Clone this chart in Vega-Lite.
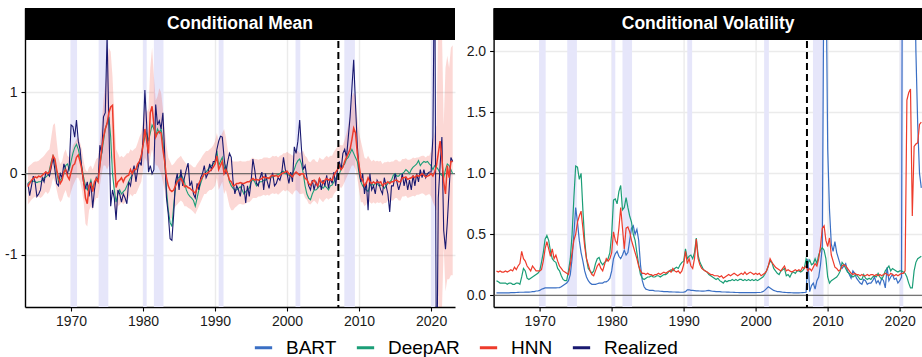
{
  "$schema": "https://vega.github.io/schema/vega-lite/v6.json",
  "padding": {"left": 4, "top": 7, "right": 0, "bottom": 0},
  "bounds": "flush",
  "spacing": 38.6,
  "config": {
    "font": "Liberation Sans",
    "view": {"stroke": null},
    "axis": {"grid": true, "gridColor": "#ebebeb", "gridWidth": 1.4, "domainColor": "#000000", "domainWidth": 1.4, "tickColor": "#000000", "tickSize": 4, "tickWidth": 1.1, "labelFontSize": 14, "labelColor": "#1a1a1a", "labelPadding": 3}
  },
  "datasets": {
    "rec": [{"s": 1969.92, "e": 1970.83}, {"s": 1973.83, "e": 1975.17}, {"s": 1980.0, "e": 1980.5}, {"s": 1981.5, "e": 1982.83}, {"s": 1990.5, "e": 1991.17}, {"s": 2001.17, "e": 2001.83}, {"s": 2007.95, "e": 2009.42}, {"s": 2020.0, "e": 2020.5}],
    "cut": [{"t": 2007.12}],
    "zero": [{"y": 0}],
    "mean": [
{"t":1964.0,"Realized":-0.12,"DeepAR":-0.12,"HNN":-0.16,"lo":-0.38,"hi":0.08},
{"t":1964.25,"Realized":-0.27,"DeepAR":-0.1,"HNN":-0.12,"lo":-0.35,"hi":0.1},
{"t":1964.5,"Realized":-0.15,"DeepAR":-0.1,"HNN":-0.08,"lo":-0.32,"hi":0.12},
{"t":1964.75,"Realized":-0.03,"DeepAR":-0.09,"HNN":-0.06,"lo":-0.3,"hi":0.14},
{"t":1965.0,"Realized":-0.1,"DeepAR":-0.1,"HNN":-0.04,"lo":-0.28,"hi":0.15},
{"t":1965.25,"Realized":-0.28,"DeepAR":-0.11,"HNN":-0.05,"lo":-0.3,"hi":0.15},
{"t":1965.5,"Realized":-0.25,"DeepAR":-0.1,"HNN":-0.03,"lo":-0.28,"hi":0.16},
{"t":1965.75,"Realized":-0.2,"DeepAR":-0.1,"HNN":-0.04,"lo":-0.3,"hi":0.18},
{"t":1966.0,"Realized":-0.05,"DeepAR":-0.08,"HNN":-0.02,"lo":-0.28,"hi":0.2},
{"t":1966.25,"Realized":-0.1,"DeepAR":-0.05,"HNN":0,"lo":-0.25,"hi":0.22},
{"t":1966.5,"Realized":0.02,"DeepAR":-0.04,"HNN":0.02,"lo":-0.22,"hi":0.25},
{"t":1966.75,"Realized":0,"DeepAR":-0.02,"HNN":0,"lo":-0.25,"hi":0.28},
{"t":1967.0,"Realized":-0.03,"DeepAR":0.05,"HNN":0.02,"lo":-0.22,"hi":0.3},
{"t":1967.25,"Realized":0.08,"DeepAR":0.15,"HNN":0.12,"lo":-0.15,"hi":0.45},
{"t":1967.5,"Realized":0.2,"DeepAR":0.22,"HNN":0.22,"lo":-0.05,"hi":0.6},
{"t":1967.75,"Realized":0.05,"DeepAR":0.15,"HNN":0.18,"lo":-0.1,"hi":0.62},
{"t":1968.0,"Realized":-0.12,"DeepAR":0.02,"HNN":0.05,"lo":-0.2,"hi":0.4},
{"t":1968.25,"Realized":-0.15,"DeepAR":-0.1,"HNN":-0.05,"lo":-0.3,"hi":0.2},
{"t":1968.5,"Realized":0,"DeepAR":-0.08,"HNN":-0.12,"lo":-0.35,"hi":0.12},
{"t":1968.75,"Realized":-0.05,"DeepAR":-0.05,"HNN":-0.08,"lo":-0.32,"hi":0.15},
{"t":1969.0,"Realized":0.12,"DeepAR":0,"HNN":0.02,"lo":-0.25,"hi":0.25},
{"t":1969.25,"Realized":0.05,"DeepAR":0.1,"HNN":0.05,"lo":-0.2,"hi":0.3},
{"t":1969.5,"Realized":0,"DeepAR":0.12,"HNN":-0.03,"lo":-0.28,"hi":0.22},
{"t":1969.75,"Realized":0.1,"DeepAR":0.05,"HNN":-0.07,"lo":-0.3,"hi":0.2},
{"t":1970.0,"Realized":0.6,"DeepAR":0.15,"HNN":0.02,"lo":-0.22,"hi":0.25},
{"t":1970.25,"Realized":0.58,"DeepAR":0.25,"HNN":0.1,"lo":-0.15,"hi":0.35},
{"t":1970.5,"Realized":0.45,"DeepAR":0.32,"HNN":0.12,"lo":-0.1,"hi":0.38},
{"t":1970.75,"Realized":0.66,"DeepAR":0.36,"HNN":0.2,"lo":-0.05,"hi":0.42},
{"t":1971.0,"Realized":0.4,"DeepAR":0.3,"HNN":0.23,"lo":-0.05,"hi":0.45},
{"t":1971.25,"Realized":0.3,"DeepAR":0.2,"HNN":0.15,"lo":-0.1,"hi":0.38},
{"t":1971.5,"Realized":0.05,"DeepAR":0.08,"HNN":0.05,"lo":-0.2,"hi":0.3},
{"t":1971.75,"Realized":-0.12,"DeepAR":-0.05,"HNN":-0.1,"lo":-0.35,"hi":0.15},
{"t":1972.0,"Realized":-0.18,"DeepAR":-0.15,"HNN":-0.3,"lo":-0.62,"hi":0.05},
{"t":1972.25,"Realized":-0.1,"DeepAR":-0.2,"HNN":-0.37,"lo":-0.65,"hi":0.02},
{"t":1972.5,"Realized":-0.28,"DeepAR":-0.15,"HNN":-0.15,"lo":-0.45,"hi":0.08},
{"t":1972.75,"Realized":-0.1,"DeepAR":-0.08,"HNN":-0.12,"lo":-0.4,"hi":0.1},
{"t":1973.0,"Realized":-0.42,"DeepAR":-0.18,"HNN":-0.22,"lo":-0.45,"hi":0.05},
{"t":1973.25,"Realized":-0.2,"DeepAR":-0.12,"HNN":-0.1,"lo":-0.35,"hi":0.12},
{"t":1973.5,"Realized":-0.05,"DeepAR":-0.08,"HNN":-0.06,"lo":-0.3,"hi":0.18},
{"t":1973.75,"Realized":-0.1,"DeepAR":-0.05,"HNN":-0.1,"lo":-0.3,"hi":0.2},
{"t":1974.0,"Realized":0.35,"DeepAR":0.1,"HNN":0.1,"lo":-0.15,"hi":0.4},
{"t":1974.25,"Realized":0.25,"DeepAR":0.25,"HNN":0.3,"lo":0,"hi":0.6},
{"t":1974.5,"Realized":0.7,"DeepAR":0.4,"HNN":0.45,"lo":0.1,"hi":0.9},
{"t":1974.75,"Realized":0.75,"DeepAR":0.55,"HNN":0.55,"lo":0.1,"hi":1.1},
{"t":1975.0,"Realized":1.7,"DeepAR":0.62,"HNN":0.62,"lo":0.05,"hi":1.3},
{"t":1975.25,"Realized":0.6,"DeepAR":0.7,"HNN":0.75,"lo":0.1,"hi":1.55},
{"t":1975.5,"Realized":-0.4,"DeepAR":0.45,"HNN":0.82,"lo":0.2,"hi":1.5},
{"t":1975.75,"Realized":-0.2,"DeepAR":0,"HNN":0.84,"lo":0.1,"hi":1.2},
{"t":1976.0,"Realized":-0.3,"DeepAR":-0.2,"HNN":0.2,"lo":-0.4,"hi":0.7},
{"t":1976.25,"Realized":-0.57,"DeepAR":-0.35,"HNN":-0.17,"lo":-0.5,"hi":0.3},
{"t":1976.5,"Realized":-0.2,"DeepAR":-0.25,"HNN":-0.1,"lo":-0.4,"hi":0.25},
{"t":1976.75,"Realized":-0.25,"DeepAR":-0.2,"HNN":-0.08,"lo":-0.38,"hi":0.2},
{"t":1977.0,"Realized":-0.35,"DeepAR":-0.25,"HNN":-0.05,"lo":-0.35,"hi":0.22},
{"t":1977.25,"Realized":-0.25,"DeepAR":-0.22,"HNN":-0.1,"lo":-0.38,"hi":0.2},
{"t":1977.5,"Realized":-0.3,"DeepAR":-0.2,"HNN":-0.05,"lo":-0.35,"hi":0.22},
{"t":1977.75,"Realized":-0.37,"DeepAR":-0.15,"HNN":-0.03,"lo":-0.33,"hi":0.25},
{"t":1978.0,"Realized":-0.1,"DeepAR":-0.1,"HNN":-0.02,"lo":-0.3,"hi":0.25},
{"t":1978.25,"Realized":-0.15,"DeepAR":-0.05,"HNN":0.05,"lo":-0.25,"hi":0.3},
{"t":1978.5,"Realized":0,"DeepAR":-0.02,"HNN":0,"lo":-0.28,"hi":0.28},
{"t":1978.75,"Realized":0.1,"DeepAR":0.05,"HNN":0.05,"lo":-0.25,"hi":0.3},
{"t":1979.0,"Realized":-0.1,"DeepAR":0.05,"HNN":0.05,"lo":-0.25,"hi":0.32},
{"t":1979.25,"Realized":0.05,"DeepAR":0.1,"HNN":0.12,"lo":-0.2,"hi":0.38},
{"t":1979.5,"Realized":0.15,"DeepAR":0.15,"HNN":0.15,"lo":-0.15,"hi":0.45},
{"t":1979.75,"Realized":0.1,"DeepAR":0.22,"HNN":0.22,"lo":-0.1,"hi":0.5},
{"t":1980.0,"Realized":0.45,"DeepAR":0.35,"HNN":0.35,"lo":0.05,"hi":0.65},
{"t":1980.25,"Realized":1.03,"DeepAR":0.45,"HNN":0.55,"lo":0.2,"hi":0.85},
{"t":1980.5,"Realized":0.6,"DeepAR":0.5,"HNN":0.4,"lo":0.15,"hi":0.75},
{"t":1980.75,"Realized":0.02,"DeepAR":0.4,"HNN":0.25,"lo":0,"hi":0.8},
{"t":1981.0,"Realized":0.1,"DeepAR":0.5,"HNN":0.75,"lo":0.2,"hi":1.3},
{"t":1981.25,"Realized":0,"DeepAR":0.6,"HNN":0.83,"lo":0.3,"hi":1.55},
{"t":1981.5,"Realized":0.05,"DeepAR":0.55,"HNN":0.6,"lo":0.2,"hi":1.2},
{"t":1981.75,"Realized":0.85,"DeepAR":0.45,"HNN":0.45,"lo":0.1,"hi":0.9},
{"t":1982.0,"Realized":0.6,"DeepAR":0.55,"HNN":0.5,"lo":0.1,"hi":0.95},
{"t":1982.25,"Realized":0.65,"DeepAR":0.5,"HNN":0.52,"lo":0.05,"hi":1.05},
{"t":1982.5,"Realized":0.55,"DeepAR":0.55,"HNN":0.5,"lo":0,"hi":1.0},
{"t":1982.75,"Realized":0.75,"DeepAR":0.4,"HNN":0.3,"lo":-0.1,"hi":0.8},
{"t":1983.0,"Realized":0.25,"DeepAR":0.15,"HNN":0.15,"lo":-0.2,"hi":0.55},
{"t":1983.25,"Realized":-0.3,"DeepAR":-0.2,"HNN":-0.05,"lo":-0.35,"hi":0.35},
{"t":1983.5,"Realized":-0.5,"DeepAR":-0.45,"HNN":-0.15,"lo":-0.45,"hi":0.2},
{"t":1983.75,"Realized":-0.8,"DeepAR":-0.6,"HNN":-0.2,"lo":-0.55,"hi":0.15},
{"t":1984.0,"Realized":-0.82,"DeepAR":-0.65,"HNN":-0.22,"lo":-0.55,"hi":0.1},
{"t":1984.25,"Realized":-0.5,"DeepAR":-0.4,"HNN":-0.2,"lo":-0.45,"hi":0.12},
{"t":1984.5,"Realized":-0.1,"DeepAR":-0.15,"HNN":-0.15,"lo":-0.4,"hi":0.15},
{"t":1984.75,"Realized":0,"DeepAR":-0.05,"HNN":-0.1,"lo":-0.38,"hi":0.18},
{"t":1985.0,"Realized":-0.2,"DeepAR":-0.05,"HNN":-0.08,"lo":-0.35,"hi":0.2},
{"t":1985.25,"Realized":0.05,"DeepAR":0,"HNN":-0.06,"lo":-0.33,"hi":0.22},
{"t":1985.5,"Realized":-0.15,"DeepAR":-0.05,"HNN":-0.1,"lo":-0.35,"hi":0.18},
{"t":1985.75,"Realized":-0.05,"DeepAR":-0.1,"HNN":-0.16,"lo":-0.4,"hi":0.15},
{"t":1986.0,"Realized":0.05,"DeepAR":-0.2,"HNN":-0.15,"lo":-0.4,"hi":0.12},
{"t":1986.25,"Realized":0.13,"DeepAR":-0.25,"HNN":-0.17,"lo":-0.42,"hi":0.1},
{"t":1986.5,"Realized":-0.15,"DeepAR":-0.28,"HNN":-0.18,"lo":-0.43,"hi":0.12},
{"t":1986.75,"Realized":-0.1,"DeepAR":-0.3,"HNN":-0.2,"lo":-0.45,"hi":0.1},
{"t":1987.0,"Realized":-0.25,"DeepAR":-0.33,"HNN":-0.22,"lo":-0.47,"hi":0.08},
{"t":1987.25,"Realized":-0.3,"DeepAR":-0.4,"HNN":-0.24,"lo":-0.5,"hi":0.08},
{"t":1987.5,"Realized":-0.12,"DeepAR":-0.3,"HNN":-0.18,"lo":-0.45,"hi":0.12},
{"t":1987.75,"Realized":-0.2,"DeepAR":-0.2,"HNN":-0.12,"lo":-0.4,"hi":0.15},
{"t":1988.0,"Realized":-0.05,"DeepAR":-0.12,"HNN":-0.08,"lo":-0.35,"hi":0.18},
{"t":1988.25,"Realized":0,"DeepAR":-0.05,"HNN":-0.04,"lo":-0.3,"hi":0.22},
{"t":1988.5,"Realized":0.1,"DeepAR":0,"HNN":0,"lo":-0.25,"hi":0.25},
{"t":1988.75,"Realized":-0.05,"DeepAR":0.02,"HNN":0,"lo":-0.25,"hi":0.28},
{"t":1989.0,"Realized":0,"DeepAR":0.05,"HNN":0.01,"lo":-0.22,"hi":0.28},
{"t":1989.25,"Realized":0.12,"DeepAR":0.08,"HNN":0.03,"lo":-0.2,"hi":0.3},
{"t":1989.5,"Realized":0.05,"DeepAR":0.1,"HNN":0.05,"lo":-0.2,"hi":0.32},
{"t":1989.75,"Realized":0.15,"DeepAR":0.12,"HNN":0.08,"lo":-0.18,"hi":0.35},
{"t":1990.0,"Realized":0.15,"DeepAR":0.15,"HNN":0.12,"lo":-0.15,"hi":0.4},
{"t":1990.25,"Realized":0.3,"DeepAR":0.28,"HNN":0.22,"lo":-0.05,"hi":0.5},
{"t":1990.5,"Realized":0.4,"DeepAR":0.1,"HNN":0.05,"lo":-0.2,"hi":0.4},
{"t":1990.75,"Realized":0.46,"DeepAR":0.15,"HNN":0.1,"lo":-0.15,"hi":0.45},
{"t":1991.0,"Realized":0.45,"DeepAR":0.2,"HNN":0.15,"lo":-0.1,"hi":0.5},
{"t":1991.25,"Realized":0.2,"DeepAR":0.05,"HNN":0,"lo":-0.25,"hi":0.55},
{"t":1991.5,"Realized":0,"DeepAR":0.1,"HNN":0.05,"lo":-0.2,"hi":0.45},
{"t":1991.75,"Realized":0.15,"DeepAR":0,"HNN":0,"lo":-0.3,"hi":0.3},
{"t":1992.0,"Realized":0.25,"DeepAR":-0.1,"HNN":-0.08,"lo":-0.4,"hi":0.2},
{"t":1992.25,"Realized":0.2,"DeepAR":-0.15,"HNN":-0.1,"lo":-0.45,"hi":0.18},
{"t":1992.5,"Realized":-0.1,"DeepAR":-0.18,"HNN":-0.15,"lo":-0.45,"hi":0.15},
{"t":1992.75,"Realized":-0.25,"DeepAR":-0.2,"HNN":-0.14,"lo":-0.42,"hi":0.15},
{"t":1993.0,"Realized":-0.15,"DeepAR":-0.2,"HNN":-0.12,"lo":-0.4,"hi":0.15},
{"t":1993.25,"Realized":-0.2,"DeepAR":-0.18,"HNN":-0.12,"lo":-0.38,"hi":0.15},
{"t":1993.5,"Realized":-0.28,"DeepAR":-0.16,"HNN":-0.11,"lo":-0.37,"hi":0.16},
{"t":1993.75,"Realized":-0.12,"DeepAR":-0.2,"HNN":-0.12,"lo":-0.38,"hi":0.15},
{"t":1994.0,"Realized":-0.15,"DeepAR":-0.25,"HNN":-0.12,"lo":-0.38,"hi":0.15},
{"t":1994.25,"Realized":-0.36,"DeepAR":-0.22,"HNN":-0.11,"lo":-0.37,"hi":0.15},
{"t":1994.5,"Realized":-0.15,"DeepAR":-0.2,"HNN":-0.1,"lo":-0.35,"hi":0.16},
{"t":1994.75,"Realized":-0.28,"DeepAR":-0.18,"HNN":-0.1,"lo":-0.35,"hi":0.16},
{"t":1995.0,"Realized":-0.1,"DeepAR":-0.1,"HNN":-0.08,"lo":-0.33,"hi":0.18},
{"t":1995.25,"Realized":0.18,"DeepAR":-0.07,"HNN":-0.06,"lo":-0.3,"hi":0.2},
{"t":1995.5,"Realized":0.05,"DeepAR":-0.1,"HNN":-0.08,"lo":-0.3,"hi":0.18},
{"t":1995.75,"Realized":-0.12,"DeepAR":-0.15,"HNN":-0.07,"lo":-0.3,"hi":0.18},
{"t":1996.0,"Realized":-0.15,"DeepAR":-0.12,"HNN":-0.08,"lo":-0.28,"hi":0.17},
{"t":1996.25,"Realized":-0.05,"DeepAR":-0.1,"HNN":-0.07,"lo":-0.28,"hi":0.18},
{"t":1996.5,"Realized":0.02,"DeepAR":-0.1,"HNN":-0.06,"lo":-0.27,"hi":0.18},
{"t":1996.75,"Realized":-0.2,"DeepAR":-0.08,"HNN":-0.04,"lo":-0.26,"hi":0.2},
{"t":1997.0,"Realized":0,"DeepAR":-0.08,"HNN":-0.05,"lo":-0.27,"hi":0.2},
{"t":1997.25,"Realized":-0.1,"DeepAR":-0.06,"HNN":-0.05,"lo":-0.26,"hi":0.2},
{"t":1997.5,"Realized":-0.18,"DeepAR":-0.05,"HNN":-0.06,"lo":-0.27,"hi":0.19},
{"t":1997.75,"Realized":-0.04,"DeepAR":-0.04,"HNN":-0.03,"lo":-0.25,"hi":0.2},
{"t":1998.0,"Realized":0,"DeepAR":-0.04,"HNN":-0.02,"lo":-0.24,"hi":0.22},
{"t":1998.25,"Realized":-0.15,"DeepAR":-0.03,"HNN":-0.03,"lo":-0.25,"hi":0.21},
{"t":1998.5,"Realized":-0.12,"DeepAR":-0.02,"HNN":-0.02,"lo":-0.24,"hi":0.22},
{"t":1998.75,"Realized":-0.05,"DeepAR":-0.01,"HNN":-0.04,"lo":-0.26,"hi":0.2},
{"t":1999.0,"Realized":-0.08,"DeepAR":0,"HNN":-0.02,"lo":-0.24,"hi":0.22},
{"t":1999.25,"Realized":0,"DeepAR":0.02,"HNN":0,"lo":-0.22,"hi":0.23},
{"t":1999.5,"Realized":0.2,"DeepAR":0.03,"HNN":0.01,"lo":-0.2,"hi":0.25},
{"t":1999.75,"Realized":0.05,"DeepAR":0,"HNN":0.02,"lo":-0.22,"hi":0.25},
{"t":2000.0,"Realized":0,"DeepAR":0,"HNN":0.03,"lo":-0.2,"hi":0.27},
{"t":2000.25,"Realized":-0.12,"DeepAR":-0.02,"HNN":0,"lo":-0.22,"hi":0.25},
{"t":2000.5,"Realized":0.02,"DeepAR":-0.03,"HNN":-0.02,"lo":-0.24,"hi":0.24},
{"t":2000.75,"Realized":-0.1,"DeepAR":0,"HNN":-0.04,"lo":-0.26,"hi":0.22},
{"t":2001.0,"Realized":0.33,"DeepAR":0.05,"HNN":0,"lo":-0.22,"hi":0.25},
{"t":2001.25,"Realized":0.25,"DeepAR":0.12,"HNN":0.02,"lo":-0.2,"hi":0.28},
{"t":2001.5,"Realized":0.4,"DeepAR":0.16,"HNN":0,"lo":-0.22,"hi":0.28},
{"t":2001.75,"Realized":0.66,"DeepAR":0.18,"HNN":-0.02,"lo":-0.25,"hi":0.25},
{"t":2002.0,"Realized":0.3,"DeepAR":0.12,"HNN":0,"lo":-0.25,"hi":0.27},
{"t":2002.25,"Realized":0.05,"DeepAR":0,"HNN":0,"lo":-0.24,"hi":0.28},
{"t":2002.5,"Realized":0.1,"DeepAR":-0.15,"HNN":-0.06,"lo":-0.3,"hi":0.22},
{"t":2002.75,"Realized":-0.05,"DeepAR":-0.25,"HNN":-0.07,"lo":-0.32,"hi":0.2},
{"t":2003.0,"Realized":-0.15,"DeepAR":-0.3,"HNN":-0.12,"lo":-0.37,"hi":0.15},
{"t":2003.25,"Realized":-0.2,"DeepAR":-0.32,"HNN":-0.14,"lo":-0.38,"hi":0.14},
{"t":2003.5,"Realized":-0.08,"DeepAR":-0.25,"HNN":-0.1,"lo":-0.35,"hi":0.17},
{"t":2003.75,"Realized":-0.2,"DeepAR":-0.2,"HNN":-0.08,"lo":-0.33,"hi":0.18},
{"t":2004.0,"Realized":-0.1,"DeepAR":-0.2,"HNN":-0.12,"lo":-0.35,"hi":0.15},
{"t":2004.25,"Realized":-0.16,"DeepAR":-0.18,"HNN":-0.15,"lo":-0.38,"hi":0.14},
{"t":2004.5,"Realized":-0.05,"DeepAR":-0.15,"HNN":-0.06,"lo":-0.3,"hi":0.2},
{"t":2004.75,"Realized":-0.2,"DeepAR":-0.16,"HNN":-0.1,"lo":-0.33,"hi":0.18},
{"t":2005.0,"Realized":-0.08,"DeepAR":-0.18,"HNN":-0.12,"lo":-0.35,"hi":0.17},
{"t":2005.25,"Realized":-0.15,"DeepAR":-0.15,"HNN":-0.08,"lo":-0.32,"hi":0.2},
{"t":2005.5,"Realized":-0.02,"DeepAR":-0.17,"HNN":-0.06,"lo":-0.3,"hi":0.22},
{"t":2005.75,"Realized":-0.18,"DeepAR":-0.2,"HNN":-0.08,"lo":-0.32,"hi":0.2},
{"t":2006.0,"Realized":-0.05,"DeepAR":-0.15,"HNN":-0.07,"lo":-0.3,"hi":0.22},
{"t":2006.25,"Realized":-0.12,"DeepAR":-0.14,"HNN":-0.08,"lo":-0.3,"hi":0.22},
{"t":2006.5,"Realized":0.02,"DeepAR":-0.1,"HNN":-0.02,"lo":-0.25,"hi":0.27},
{"t":2006.75,"Realized":-0.15,"DeepAR":-0.06,"HNN":0.02,"lo":-0.22,"hi":0.3},
{"t":2007.0,"Realized":0.05,"DeepAR":-0.02,"HNN":0.05,"lo":-0.2,"hi":0.33},
{"t":2007.25,"Realized":0.15,"DeepAR":0,"HNN":0.1,"lo":-0.15,"hi":0.36},
{"t":2007.5,"Realized":0.05,"DeepAR":0.05,"HNN":0.05,"lo":-0.18,"hi":0.35},
{"t":2007.75,"Realized":0.25,"DeepAR":0.1,"HNN":0.08,"lo":-0.15,"hi":0.35},
{"t":2008.0,"Realized":0.3,"DeepAR":0.12,"HNN":0.15,"lo":-0.1,"hi":0.42},
{"t":2008.25,"Realized":0.2,"DeepAR":0.18,"HNN":0.2,"lo":-0.05,"hi":0.5},
{"t":2008.5,"Realized":0.45,"DeepAR":0.2,"HNN":0.25,"lo":0,"hi":0.6},
{"t":2008.75,"Realized":0.7,"DeepAR":0.25,"HNN":0.3,"lo":0.05,"hi":0.75},
{"t":2009.0,"Realized":1.05,"DeepAR":0.3,"HNN":0.42,"lo":0.1,"hi":0.95},
{"t":2009.25,"Realized":1.4,"DeepAR":0.25,"HNN":0.56,"lo":0.1,"hi":1.0},
{"t":2009.5,"Realized":0.85,"DeepAR":0.2,"HNN":0.5,"lo":0.05,"hi":0.95},
{"t":2009.75,"Realized":0.35,"DeepAR":0.15,"HNN":0.25,"lo":-0.05,"hi":0.7},
{"t":2010.0,"Realized":0.05,"DeepAR":0,"HNN":0.1,"lo":-0.2,"hi":0.5},
{"t":2010.25,"Realized":-0.1,"DeepAR":-0.1,"HNN":-0.05,"lo":-0.35,"hi":0.4},
{"t":2010.5,"Realized":0,"DeepAR":-0.15,"HNN":-0.08,"lo":-0.35,"hi":0.3},
{"t":2010.75,"Realized":-0.25,"DeepAR":-0.18,"HNN":-0.15,"lo":-0.4,"hi":0.2},
{"t":2011.0,"Realized":-0.1,"DeepAR":-0.2,"HNN":-0.12,"lo":-0.38,"hi":0.18},
{"t":2011.25,"Realized":-0.45,"DeepAR":-0.22,"HNN":-0.05,"lo":-0.32,"hi":0.22},
{"t":2011.5,"Realized":0,"DeepAR":-0.15,"HNN":-0.1,"lo":-0.35,"hi":0.18},
{"t":2011.75,"Realized":-0.2,"DeepAR":-0.12,"HNN":-0.12,"lo":-0.37,"hi":0.15},
{"t":2012.0,"Realized":-0.15,"DeepAR":-0.15,"HNN":-0.1,"lo":-0.35,"hi":0.17},
{"t":2012.25,"Realized":-0.25,"DeepAR":-0.12,"HNN":-0.12,"lo":-0.37,"hi":0.15},
{"t":2012.5,"Realized":-0.08,"DeepAR":-0.12,"HNN":-0.1,"lo":-0.35,"hi":0.16},
{"t":2012.75,"Realized":-0.12,"DeepAR":-0.15,"HNN":-0.11,"lo":-0.36,"hi":0.15},
{"t":2013.0,"Realized":-0.2,"DeepAR":-0.14,"HNN":-0.1,"lo":-0.35,"hi":0.16},
{"t":2013.25,"Realized":-0.25,"DeepAR":-0.15,"HNN":-0.15,"lo":-0.38,"hi":0.12},
{"t":2013.5,"Realized":-0.05,"DeepAR":-0.18,"HNN":-0.12,"lo":-0.36,"hi":0.14},
{"t":2013.75,"Realized":-0.15,"DeepAR":-0.15,"HNN":-0.12,"lo":-0.36,"hi":0.14},
{"t":2014.0,"Realized":-0.25,"DeepAR":-0.12,"HNN":-0.1,"lo":-0.33,"hi":0.15},
{"t":2014.25,"Realized":-0.47,"DeepAR":-0.1,"HNN":-0.12,"lo":-0.35,"hi":0.14},
{"t":2014.5,"Realized":-0.15,"DeepAR":-0.08,"HNN":-0.1,"lo":-0.33,"hi":0.15},
{"t":2014.75,"Realized":-0.15,"DeepAR":-0.02,"HNN":-0.1,"lo":-0.33,"hi":0.15},
{"t":2015.0,"Realized":0,"DeepAR":0,"HNN":-0.08,"lo":-0.3,"hi":0.17},
{"t":2015.25,"Realized":-0.1,"DeepAR":-0.03,"HNN":-0.08,"lo":-0.3,"hi":0.17},
{"t":2015.5,"Realized":-0.2,"DeepAR":-0.03,"HNN":-0.1,"lo":-0.33,"hi":0.15},
{"t":2015.75,"Realized":-0.12,"DeepAR":0,"HNN":-0.1,"lo":-0.33,"hi":0.15},
{"t":2016.0,"Realized":0,"DeepAR":0,"HNN":-0.05,"lo":-0.28,"hi":0.18},
{"t":2016.25,"Realized":-0.15,"DeepAR":0.02,"HNN":-0.05,"lo":-0.28,"hi":0.18},
{"t":2016.5,"Realized":-0.05,"DeepAR":0.05,"HNN":-0.04,"lo":-0.27,"hi":0.19},
{"t":2016.75,"Realized":-0.2,"DeepAR":0.03,"HNN":-0.07,"lo":-0.3,"hi":0.17},
{"t":2017.0,"Realized":-0.08,"DeepAR":0,"HNN":-0.06,"lo":-0.29,"hi":0.17},
{"t":2017.25,"Realized":-0.2,"DeepAR":0.05,"HNN":-0.05,"lo":-0.28,"hi":0.18},
{"t":2017.5,"Realized":-0.02,"DeepAR":0.08,"HNN":-0.03,"lo":-0.27,"hi":0.2},
{"t":2017.75,"Realized":-0.15,"DeepAR":0.1,"HNN":-0.05,"lo":-0.28,"hi":0.19},
{"t":2018.0,"Realized":0,"DeepAR":0.12,"HNN":-0.02,"lo":-0.26,"hi":0.2},
{"t":2018.25,"Realized":-0.1,"DeepAR":0.16,"HNN":-0.03,"lo":-0.26,"hi":0.2},
{"t":2018.5,"Realized":0.05,"DeepAR":0.1,"HNN":-0.02,"lo":-0.25,"hi":0.21},
{"t":2018.75,"Realized":-0.05,"DeepAR":0.13,"HNN":0,"lo":-0.24,"hi":0.22},
{"t":2019.0,"Realized":0.05,"DeepAR":0.15,"HNN":-0.02,"lo":-0.25,"hi":0.22},
{"t":2019.25,"Realized":-0.05,"DeepAR":0.14,"HNN":-0.04,"lo":-0.27,"hi":0.2},
{"t":2019.5,"Realized":0,"DeepAR":0.15,"HNN":-0.03,"lo":-0.26,"hi":0.22},
{"t":2019.75,"Realized":0.02,"DeepAR":0.12,"HNN":-0.02,"lo":-0.25,"hi":0.22},
{"t":2020.0,"Realized":0.02,"DeepAR":0.1,"HNN":0,"lo":-0.28,"hi":0.28},
{"t":2020.25,"Realized":0.45,"DeepAR":0.05,"HNN":-0.03,"lo":-0.35,"hi":0.4},
{"t":2020.5,"Realized":3,"DeepAR":0.1,"HNN":0.02,"lo":-0.4,"hi":0.5},
{"t":2020.75,"Realized":-3,"DeepAR":0.08,"HNN":0.1,"lo":-0.45,"hi":0.6},
{"t":2021.0,"Realized":-0.3,"DeepAR":0.05,"HNN":0.25,"lo":-1.6,"hi":1.9},
{"t":2021.25,"Realized":0.1,"DeepAR":0,"HNN":0.4,"lo":-1.8,"hi":1.9},
{"t":2021.5,"Realized":0.45,"DeepAR":-0.02,"HNN":0.2,"lo":-1.7,"hi":1.8},
{"t":2021.75,"Realized":-0.7,"DeepAR":-0.05,"HNN":-0.1,"lo":-0.9,"hi":0.6},
{"t":2022.0,"Realized":-0.93,"DeepAR":0.05,"HNN":-0.25,"lo":-1.45,"hi":1.3},
{"t":2022.25,"Realized":-0.6,"DeepAR":0.12,"HNN":0.1,"lo":-1.3,"hi":1.45},
{"t":2022.5,"Realized":-0.2,"DeepAR":0.1,"HNN":-0.05,"lo":-1.3,"hi":1.3},
{"t":2022.75,"Realized":0.2,"DeepAR":0.05,"HNN":0.15,"lo":-1.25,"hi":1.55},
{"t":2023.0,"Realized":0.15,"DeepAR":0,"HNN":0.15,"lo":-1.25,"hi":1.58}
    ],
    "vol": [
{"t":1964.0,"BART":0.02,"DeepAR":0.12,"HNN":0.2},
{"t":1964.25,"BART":0.02,"DeepAR":0.11,"HNN":0.19},
{"t":1964.5,"BART":0.02,"DeepAR":0.1,"HNN":0.2},
{"t":1964.75,"BART":0.02,"DeepAR":0.1,"HNN":0.19},
{"t":1965.0,"BART":0.02,"DeepAR":0.1,"HNN":0.19},
{"t":1965.25,"BART":0.02,"DeepAR":0.1,"HNN":0.2},
{"t":1965.5,"BART":0.02,"DeepAR":0.09,"HNN":0.19},
{"t":1965.75,"BART":0.02,"DeepAR":0.1,"HNN":0.2},
{"t":1966.0,"BART":0.022,"DeepAR":0.1,"HNN":0.21},
{"t":1966.25,"BART":0.022,"DeepAR":0.09,"HNN":0.2},
{"t":1966.5,"BART":0.022,"DeepAR":0.09,"HNN":0.23},
{"t":1966.75,"BART":0.023,"DeepAR":0.1,"HNN":0.21},
{"t":1967.0,"BART":0.024,"DeepAR":0.1,"HNN":0.24},
{"t":1967.25,"BART":0.025,"DeepAR":0.09,"HNN":0.26},
{"t":1967.5,"BART":0.025,"DeepAR":0.15,"HNN":0.36},
{"t":1967.75,"BART":0.025,"DeepAR":0.22,"HNN":0.3},
{"t":1968.0,"BART":0.026,"DeepAR":0.2,"HNN":0.28},
{"t":1968.25,"BART":0.026,"DeepAR":0.14,"HNN":0.24},
{"t":1968.5,"BART":0.026,"DeepAR":0.13,"HNN":0.22},
{"t":1968.75,"BART":0.027,"DeepAR":0.14,"HNN":0.2},
{"t":1969.0,"BART":0.03,"DeepAR":0.15,"HNN":0.24},
{"t":1969.25,"BART":0.03,"DeepAR":0.16,"HNN":0.22},
{"t":1969.5,"BART":0.035,"DeepAR":0.17,"HNN":0.2},
{"t":1969.75,"BART":0.035,"DeepAR":0.18,"HNN":0.2},
{"t":1970.0,"BART":0.04,"DeepAR":0.2,"HNN":0.2},
{"t":1970.25,"BART":0.05,"DeepAR":0.27,"HNN":0.21},
{"t":1970.5,"BART":0.055,"DeepAR":0.35,"HNN":0.28},
{"t":1970.75,"BART":0.06,"DeepAR":0.46,"HNN":0.38},
{"t":1971.0,"BART":0.06,"DeepAR":0.49,"HNN":0.44},
{"t":1971.25,"BART":0.06,"DeepAR":0.45,"HNN":0.38},
{"t":1971.5,"BART":0.06,"DeepAR":0.36,"HNN":0.32},
{"t":1971.75,"BART":0.06,"DeepAR":0.3,"HNN":0.38},
{"t":1972.0,"BART":0.06,"DeepAR":0.28,"HNN":0.3},
{"t":1972.25,"BART":0.06,"DeepAR":0.27,"HNN":0.33},
{"t":1972.5,"BART":0.062,"DeepAR":0.22,"HNN":0.28},
{"t":1972.75,"BART":0.063,"DeepAR":0.2,"HNN":0.24},
{"t":1973.0,"BART":0.07,"DeepAR":0.16,"HNN":0.22},
{"t":1973.25,"BART":0.08,"DeepAR":0.13,"HNN":0.2},
{"t":1973.5,"BART":0.09,"DeepAR":0.12,"HNN":0.19},
{"t":1973.75,"BART":0.1,"DeepAR":0.12,"HNN":0.18},
{"t":1974.0,"BART":0.12,"DeepAR":0.2,"HNN":0.17},
{"t":1974.25,"BART":0.17,"DeepAR":0.3,"HNN":0.25},
{"t":1974.5,"BART":0.3,"DeepAR":0.5,"HNN":0.35},
{"t":1974.75,"BART":0.5,"DeepAR":0.8,"HNN":0.45},
{"t":1975.0,"BART":0.72,"DeepAR":1.06,"HNN":0.5},
{"t":1975.25,"BART":0.6,"DeepAR":1.05,"HNN":0.6},
{"t":1975.5,"BART":0.45,"DeepAR":0.95,"HNN":0.65},
{"t":1975.75,"BART":0.35,"DeepAR":1.0,"HNN":0.69},
{"t":1976.0,"BART":0.28,"DeepAR":0.7,"HNN":0.55},
{"t":1976.25,"BART":0.2,"DeepAR":0.45,"HNN":0.4},
{"t":1976.5,"BART":0.15,"DeepAR":0.3,"HNN":0.3},
{"t":1976.75,"BART":0.12,"DeepAR":0.22,"HNN":0.25},
{"t":1977.0,"BART":0.1,"DeepAR":0.2,"HNN":0.2},
{"t":1977.25,"BART":0.09,"DeepAR":0.18,"HNN":0.17},
{"t":1977.5,"BART":0.09,"DeepAR":0.2,"HNN":0.16},
{"t":1977.75,"BART":0.09,"DeepAR":0.26,"HNN":0.2},
{"t":1978.0,"BART":0.095,"DeepAR":0.3,"HNN":0.24},
{"t":1978.25,"BART":0.1,"DeepAR":0.31,"HNN":0.26},
{"t":1978.5,"BART":0.1,"DeepAR":0.27,"HNN":0.22},
{"t":1978.75,"BART":0.1,"DeepAR":0.25,"HNN":0.2},
{"t":1979.0,"BART":0.11,"DeepAR":0.27,"HNN":0.25},
{"t":1979.25,"BART":0.11,"DeepAR":0.28,"HNN":0.3},
{"t":1979.5,"BART":0.12,"DeepAR":0.3,"HNN":0.28},
{"t":1979.75,"BART":0.14,"DeepAR":0.35,"HNN":0.3},
{"t":1980.0,"BART":0.2,"DeepAR":0.5,"HNN":0.35},
{"t":1980.25,"BART":0.3,"DeepAR":0.78,"HNN":0.52},
{"t":1980.5,"BART":0.34,"DeepAR":0.79,"HNN":0.45},
{"t":1980.75,"BART":0.36,"DeepAR":0.75,"HNN":0.42},
{"t":1981.0,"BART":0.32,"DeepAR":0.85,"HNN":0.55},
{"t":1981.25,"BART":0.3,"DeepAR":0.9,"HNN":0.72},
{"t":1981.5,"BART":0.33,"DeepAR":0.7,"HNN":0.55},
{"t":1981.75,"BART":0.37,"DeepAR":0.72,"HNN":0.38},
{"t":1982.0,"BART":0.33,"DeepAR":0.8,"HNN":0.55},
{"t":1982.25,"BART":0.35,"DeepAR":0.72,"HNN":0.56},
{"t":1982.5,"BART":0.45,"DeepAR":0.65,"HNN":0.52},
{"t":1982.75,"BART":0.55,"DeepAR":0.6,"HNN":0.45},
{"t":1983.0,"BART":0.57,"DeepAR":0.5,"HNN":0.4},
{"t":1983.25,"BART":0.5,"DeepAR":0.45,"HNN":0.35},
{"t":1983.5,"BART":0.54,"DeepAR":0.35,"HNN":0.3},
{"t":1983.75,"BART":0.45,"DeepAR":0.25,"HNN":0.24},
{"t":1984.0,"BART":0.25,"DeepAR":0.17,"HNN":0.2},
{"t":1984.25,"BART":0.12,"DeepAR":0.14,"HNN":0.18},
{"t":1984.5,"BART":0.07,"DeepAR":0.13,"HNN":0.18},
{"t":1984.75,"BART":0.05,"DeepAR":0.14,"HNN":0.17},
{"t":1985.0,"BART":0.045,"DeepAR":0.15,"HNN":0.18},
{"t":1985.25,"BART":0.04,"DeepAR":0.15,"HNN":0.17},
{"t":1985.5,"BART":0.04,"DeepAR":0.16,"HNN":0.17},
{"t":1985.75,"BART":0.04,"DeepAR":0.15,"HNN":0.16},
{"t":1986.0,"BART":0.035,"DeepAR":0.15,"HNN":0.17},
{"t":1986.25,"BART":0.035,"DeepAR":0.16,"HNN":0.17},
{"t":1986.5,"BART":0.035,"DeepAR":0.16,"HNN":0.18},
{"t":1986.75,"BART":0.033,"DeepAR":0.15,"HNN":0.17},
{"t":1987.0,"BART":0.032,"DeepAR":0.16,"HNN":0.18},
{"t":1987.25,"BART":0.03,"DeepAR":0.17,"HNN":0.19},
{"t":1987.5,"BART":0.03,"DeepAR":0.17,"HNN":0.18},
{"t":1987.75,"BART":0.03,"DeepAR":0.18,"HNN":0.19},
{"t":1988.0,"BART":0.028,"DeepAR":0.2,"HNN":0.2},
{"t":1988.25,"BART":0.028,"DeepAR":0.21,"HNN":0.19},
{"t":1988.5,"BART":0.027,"DeepAR":0.2,"HNN":0.22},
{"t":1988.75,"BART":0.027,"DeepAR":0.22,"HNN":0.2},
{"t":1989.0,"BART":0.026,"DeepAR":0.23,"HNN":0.19},
{"t":1989.25,"BART":0.026,"DeepAR":0.22,"HNN":0.2},
{"t":1989.5,"BART":0.025,"DeepAR":0.25,"HNN":0.18},
{"t":1989.75,"BART":0.025,"DeepAR":0.27,"HNN":0.2},
{"t":1990.0,"BART":0.026,"DeepAR":0.28,"HNN":0.25},
{"t":1990.25,"BART":0.03,"DeepAR":0.38,"HNN":0.36},
{"t":1990.5,"BART":0.045,"DeepAR":0.3,"HNN":0.26},
{"t":1990.75,"BART":0.045,"DeepAR":0.32,"HNN":0.3},
{"t":1991.0,"BART":0.04,"DeepAR":0.33,"HNN":0.24},
{"t":1991.25,"BART":0.04,"DeepAR":0.3,"HNN":0.22},
{"t":1991.5,"BART":0.038,"DeepAR":0.35,"HNN":0.3},
{"t":1991.75,"BART":0.036,"DeepAR":0.47,"HNN":0.46},
{"t":1992.0,"BART":0.036,"DeepAR":0.33,"HNN":0.3},
{"t":1992.25,"BART":0.035,"DeepAR":0.27,"HNN":0.25},
{"t":1992.5,"BART":0.034,"DeepAR":0.24,"HNN":0.22},
{"t":1992.75,"BART":0.034,"DeepAR":0.21,"HNN":0.21},
{"t":1993.0,"BART":0.035,"DeepAR":0.2,"HNN":0.2},
{"t":1993.25,"BART":0.038,"DeepAR":0.19,"HNN":0.19},
{"t":1993.5,"BART":0.04,"DeepAR":0.17,"HNN":0.18},
{"t":1993.75,"BART":0.036,"DeepAR":0.16,"HNN":0.17},
{"t":1994.0,"BART":0.033,"DeepAR":0.15,"HNN":0.17},
{"t":1994.25,"BART":0.032,"DeepAR":0.14,"HNN":0.16},
{"t":1994.5,"BART":0.03,"DeepAR":0.13,"HNN":0.16},
{"t":1994.75,"BART":0.03,"DeepAR":0.14,"HNN":0.16},
{"t":1995.0,"BART":0.03,"DeepAR":0.12,"HNN":0.15},
{"t":1995.25,"BART":0.028,"DeepAR":0.11,"HNN":0.16},
{"t":1995.5,"BART":0.027,"DeepAR":0.1,"HNN":0.14},
{"t":1995.75,"BART":0.027,"DeepAR":0.12,"HNN":0.15},
{"t":1996.0,"BART":0.026,"DeepAR":0.11,"HNN":0.16},
{"t":1996.25,"BART":0.026,"DeepAR":0.12,"HNN":0.17},
{"t":1996.5,"BART":0.025,"DeepAR":0.12,"HNN":0.16},
{"t":1996.75,"BART":0.025,"DeepAR":0.13,"HNN":0.17},
{"t":1997.0,"BART":0.024,"DeepAR":0.12,"HNN":0.18},
{"t":1997.25,"BART":0.023,"DeepAR":0.13,"HNN":0.17},
{"t":1997.5,"BART":0.023,"DeepAR":0.12,"HNN":0.16},
{"t":1997.75,"BART":0.022,"DeepAR":0.13,"HNN":0.17},
{"t":1998.0,"BART":0.022,"DeepAR":0.13,"HNN":0.18},
{"t":1998.25,"BART":0.022,"DeepAR":0.12,"HNN":0.17},
{"t":1998.5,"BART":0.022,"DeepAR":0.13,"HNN":0.19},
{"t":1998.75,"BART":0.022,"DeepAR":0.12,"HNN":0.17},
{"t":1999.0,"BART":0.022,"DeepAR":0.13,"HNN":0.18},
{"t":1999.25,"BART":0.022,"DeepAR":0.12,"HNN":0.19},
{"t":1999.5,"BART":0.022,"DeepAR":0.13,"HNN":0.18},
{"t":1999.75,"BART":0.022,"DeepAR":0.12,"HNN":0.17},
{"t":2000.0,"BART":0.022,"DeepAR":0.13,"HNN":0.18},
{"t":2000.25,"BART":0.023,"DeepAR":0.12,"HNN":0.17},
{"t":2000.5,"BART":0.023,"DeepAR":0.13,"HNN":0.18},
{"t":2000.75,"BART":0.025,"DeepAR":0.14,"HNN":0.16},
{"t":2001.0,"BART":0.03,"DeepAR":0.15,"HNN":0.17},
{"t":2001.25,"BART":0.04,"DeepAR":0.17,"HNN":0.18},
{"t":2001.5,"BART":0.055,"DeepAR":0.2,"HNN":0.2},
{"t":2001.75,"BART":0.07,"DeepAR":0.24,"HNN":0.24},
{"t":2002.0,"BART":0.06,"DeepAR":0.28,"HNN":0.3},
{"t":2002.25,"BART":0.05,"DeepAR":0.27,"HNN":0.27},
{"t":2002.5,"BART":0.04,"DeepAR":0.22,"HNN":0.25},
{"t":2002.75,"BART":0.035,"DeepAR":0.2,"HNN":0.23},
{"t":2003.0,"BART":0.03,"DeepAR":0.18,"HNN":0.22},
{"t":2003.25,"BART":0.03,"DeepAR":0.17,"HNN":0.21},
{"t":2003.5,"BART":0.028,"DeepAR":0.2,"HNN":0.2},
{"t":2003.75,"BART":0.025,"DeepAR":0.21,"HNN":0.22},
{"t":2004.0,"BART":0.024,"DeepAR":0.22,"HNN":0.24},
{"t":2004.25,"BART":0.023,"DeepAR":0.16,"HNN":0.2},
{"t":2004.5,"BART":0.022,"DeepAR":0.17,"HNN":0.21},
{"t":2004.75,"BART":0.022,"DeepAR":0.15,"HNN":0.2},
{"t":2005.0,"BART":0.021,"DeepAR":0.18,"HNN":0.19},
{"t":2005.25,"BART":0.02,"DeepAR":0.19,"HNN":0.2},
{"t":2005.5,"BART":0.02,"DeepAR":0.18,"HNN":0.21},
{"t":2005.75,"BART":0.02,"DeepAR":0.2,"HNN":0.2},
{"t":2006.0,"BART":0.02,"DeepAR":0.2,"HNN":0.21},
{"t":2006.25,"BART":0.021,"DeepAR":0.19,"HNN":0.2},
{"t":2006.5,"BART":0.022,"DeepAR":0.2,"HNN":0.23},
{"t":2006.75,"BART":0.023,"DeepAR":0.22,"HNN":0.22},
{"t":2007.0,"BART":0.025,"DeepAR":0.3,"HNN":0.24},
{"t":2007.25,"BART":0.3,"DeepAR":0.26,"HNN":0.2},
{"t":2007.5,"BART":0.03,"DeepAR":0.29,"HNN":0.22},
{"t":2007.75,"BART":0.08,"DeepAR":0.25,"HNN":0.2},
{"t":2008.0,"BART":0.1,"DeepAR":0.26,"HNN":0.23},
{"t":2008.25,"BART":0.05,"DeepAR":0.3,"HNN":0.26},
{"t":2008.5,"BART":0.12,"DeepAR":0.26,"HNN":0.24},
{"t":2008.75,"BART":0.15,"DeepAR":0.33,"HNN":0.3},
{"t":2009.0,"BART":0.25,"DeepAR":0.37,"HNN":0.4},
{"t":2009.25,"BART":0.4,"DeepAR":0.39,"HNN":0.55},
{"t":2009.5,"BART":3.0,"DeepAR":0.37,"HNN":0.57},
{"t":2009.75,"BART":2.8,"DeepAR":0.3,"HNN":0.45},
{"t":2010.0,"BART":1.2,"DeepAR":0.15,"HNN":0.4},
{"t":2010.25,"BART":0.7,"DeepAR":0.1,"HNN":0.47},
{"t":2010.5,"BART":0.42,"DeepAR":0.12,"HNN":0.33},
{"t":2010.75,"BART":0.36,"DeepAR":0.13,"HNN":0.28},
{"t":2011.0,"BART":0.44,"DeepAR":0.14,"HNN":0.23},
{"t":2011.25,"BART":0.35,"DeepAR":0.15,"HNN":0.22},
{"t":2011.5,"BART":0.3,"DeepAR":0.17,"HNN":0.2},
{"t":2011.75,"BART":0.25,"DeepAR":0.2,"HNN":0.21},
{"t":2012.0,"BART":0.22,"DeepAR":0.27,"HNN":0.24},
{"t":2012.25,"BART":0.24,"DeepAR":0.25,"HNN":0.25},
{"t":2012.5,"BART":0.26,"DeepAR":0.22,"HNN":0.24},
{"t":2012.75,"BART":0.2,"DeepAR":0.19,"HNN":0.22},
{"t":2013.0,"BART":0.17,"DeepAR":0.18,"HNN":0.2},
{"t":2013.25,"BART":0.14,"DeepAR":0.16,"HNN":0.18},
{"t":2013.5,"BART":0.2,"DeepAR":0.15,"HNN":0.17},
{"t":2013.75,"BART":0.18,"DeepAR":0.16,"HNN":0.18},
{"t":2014.0,"BART":0.14,"DeepAR":0.17,"HNN":0.17},
{"t":2014.25,"BART":0.12,"DeepAR":0.15,"HNN":0.17},
{"t":2014.5,"BART":0.1,"DeepAR":0.13,"HNN":0.16},
{"t":2014.75,"BART":0.09,"DeepAR":0.13,"HNN":0.17},
{"t":2015.0,"BART":0.13,"DeepAR":0.17,"HNN":0.16},
{"t":2015.25,"BART":0.12,"DeepAR":0.14,"HNN":0.16},
{"t":2015.5,"BART":0.09,"DeepAR":0.13,"HNN":0.17},
{"t":2015.75,"BART":0.1,"DeepAR":0.14,"HNN":0.16},
{"t":2016.0,"BART":0.1,"DeepAR":0.13,"HNN":0.17},
{"t":2016.25,"BART":0.12,"DeepAR":0.15,"HNN":0.17},
{"t":2016.5,"BART":0.15,"DeepAR":0.16,"HNN":0.16},
{"t":2016.75,"BART":0.1,"DeepAR":0.15,"HNN":0.17},
{"t":2017.0,"BART":0.12,"DeepAR":0.18,"HNN":0.16},
{"t":2017.25,"BART":0.09,"DeepAR":0.15,"HNN":0.17},
{"t":2017.5,"BART":0.14,"DeepAR":0.13,"HNN":0.16},
{"t":2017.75,"BART":0.12,"DeepAR":0.16,"HNN":0.17},
{"t":2018.0,"BART":0.06,"DeepAR":0.2,"HNN":0.18},
{"t":2018.25,"BART":0.23,"DeepAR":0.22,"HNN":0.17},
{"t":2018.5,"BART":0.12,"DeepAR":0.24,"HNN":0.16},
{"t":2018.75,"BART":0.15,"DeepAR":0.2,"HNN":0.18},
{"t":2019.0,"BART":0.17,"DeepAR":0.22,"HNN":0.17},
{"t":2019.25,"BART":0.13,"DeepAR":0.21,"HNN":0.16},
{"t":2019.5,"BART":0.14,"DeepAR":0.2,"HNN":0.17},
{"t":2019.75,"BART":0.1,"DeepAR":0.19,"HNN":0.16},
{"t":2020.0,"BART":0.12,"DeepAR":0.2,"HNN":0.17},
{"t":2020.25,"BART":0.15,"DeepAR":0.2,"HNN":0.18},
{"t":2020.5,"BART":6.0,"DeepAR":0.19,"HNN":0.18},
{"t":2020.75,"BART":6.0,"DeepAR":0.18,"HNN":0.2},
{"t":2021.0,"BART":6.0,"DeepAR":0.15,"HNN":1.6},
{"t":2021.25,"BART":6.0,"DeepAR":0.1,"HNN":1.66},
{"t":2021.5,"BART":6.0,"DeepAR":0.06,"HNN":1.69},
{"t":2021.75,"BART":5.0,"DeepAR":0.06,"HNN":0.65},
{"t":2022.0,"BART":3.0,"DeepAR":0.2,"HNN":1.22},
{"t":2022.25,"BART":2.0,"DeepAR":0.27,"HNN":1.24},
{"t":2022.5,"BART":1.4,"DeepAR":0.3,"HNN":1.25},
{"t":2022.75,"BART":1.0,"DeepAR":0.31,"HNN":1.4},
{"t":2023.0,"BART":0.88,"DeepAR":0.32,"HNN":1.42}
    ]
  },
  "hconcat": [
    {
      "width": 430, "height": 299,
      "layer": [
        {
          "data": {"name": "rec"},
          "mark": {"type": "rect", "color": "#e6e6fa", "opacity": 1, "clip": true},
          "encoding": {
            "x": {"field": "s", "type": "quantitative", "scale": {"domain": [1963.6, 2023.32], "nice": false, "zero": false},
                  "axis": {"title": null, "values": [1970, 1980, 1990, 2000, 2010, 2020], "format": "d"}},
            "x2": {"field": "e"}
          }
        },
        {
          "data": {"name": "mean"},
          "mark": {"type": "area", "color": "#ee3b2b", "opacity": 0.2, "clip": true},
          "encoding": {
            "x": {"field": "t", "type": "quantitative"},
            "y": {"field": "lo", "type": "quantitative", "scale": {"domain": [-1.64, 2.038], "nice": false, "zero": false},
                  "axis": {"title": null, "values": [-1, 0, 1], "labelExpr": "'' + datum.value", "labelPadding": 4}},
            "y2": {"field": "hi"}
          }
        },
        {
          "data": {"name": "zero"},
          "mark": {"type": "rule", "color": "#555555", "strokeWidth": 1},
          "encoding": {"y": {"field": "y", "type": "quantitative"}}
        },
        {
          "data": {"name": "mean"},
          "transform": [{"fold": ["DeepAR", "Realized", "HNN"], "as": ["series", "value"]}],
          "mark": {"type": "line", "clip": true},
          "encoding": {
            "x": {"field": "t", "type": "quantitative"},
            "y": {"field": "value", "type": "quantitative"},
            "color": {"field": "series", "type": "nominal",
              "scale": {"domain": ["BART", "DeepAR", "HNN", "Realized"], "range": ["#3a6fc4", "#1b9e77", "#ee3b2b", "#191970"]},
              "legend": {"title": null, "orient": "none", "legendX": 228, "legendY": 329, "direction": "horizontal", "symbolType": "stroke", "symbolStrokeWidth": 3, "symbolSize": 300, "labelFontSize": 19, "labelColor": "#000000", "labelOffset": 12, "columnPadding": 13}},
            "strokeWidth": {"condition": {"test": "datum.series === 'HNN'", "value": 1.5}, "value": 1.1}
          }
        },
        {
          "data": {"name": "cut"},
          "mark": {"type": "rule", "color": "#000000", "strokeWidth": 2, "strokeDash": [7, 4]},
          "encoding": {"x": {"field": "t", "type": "quantitative"}}
        },
        {
          "data": {"values": [{"panel": "Conditional Mean"}]},
          "mark": {"type": "rect", "color": "#000000"},
          "encoding": {"y": {"datum": 1.645}, "y2": {"datum": 2.038}}
        },
        {
          "data": {"values": [{"panel": "Conditional Mean"}]},
          "mark": {"type": "text", "color": "#ffffff", "fontSize": 17.5, "fontWeight": "bold", "baseline": "middle", "align": "center"},
          "encoding": {"y": {"datum": 1.8415}, "text": {"field": "panel"}}
        }
      ]
    },
    {
      "width": 429, "height": 299,
      "layer": [
        {
          "data": {"name": "rec"},
          "mark": {"type": "rect", "color": "#e6e6fa", "opacity": 1, "clip": true},
          "encoding": {
            "x": {"field": "s", "type": "quantitative", "scale": {"domain": [1963.6, 2023.18], "nice": false, "zero": false},
                  "axis": {"title": null, "values": [1970, 1980, 1990, 2000, 2010, 2020], "format": "d"}},
            "x2": {"field": "e"}
          }
        },
        {
          "data": {"name": "zero"},
          "mark": {"type": "rule", "color": "#555555", "strokeWidth": 1},
          "encoding": {"y": {"field": "y", "type": "quantitative", "scale": {"domain": [-0.096, 2.355], "nice": false, "zero": false},
                  "axis": {"title": null, "values": [0, 0.5, 1, 1.5, 2], "format": ".1f", "labelPadding": 4}}}
        },
        {
          "data": {"name": "vol"},
          "transform": [{"fold": ["BART", "DeepAR", "HNN"], "as": ["series", "value"]}],
          "mark": {"type": "line", "clip": true, "strokeWidth": 1.2},
          "encoding": {
            "x": {"field": "t", "type": "quantitative"},
            "y": {"field": "value", "type": "quantitative"},
            "color": {"field": "series", "type": "nominal",
              "scale": {"domain": ["BART", "DeepAR", "HNN", "Realized"], "range": ["#3a6fc4", "#1b9e77", "#ee3b2b", "#191970"]},
              "legend": {"title": null, "orient": "none", "legendX": 228, "legendY": 329, "direction": "horizontal", "symbolType": "stroke", "symbolStrokeWidth": 3, "symbolSize": 300, "labelFontSize": 19, "labelColor": "#000000", "labelOffset": 12, "columnPadding": 13}}
          }
        },
        {
          "data": {"name": "cut"},
          "mark": {"type": "rule", "color": "#000000", "strokeWidth": 2, "strokeDash": [7, 4]},
          "encoding": {"x": {"field": "t", "type": "quantitative"}}
        },
        {
          "data": {"values": [{"panel": "Conditional Volatility"}]},
          "mark": {"type": "rect", "color": "#000000"},
          "encoding": {"y": {"datum": 2.093}, "y2": {"datum": 2.355}}
        },
        {
          "data": {"values": [{"panel": "Conditional Volatility"}]},
          "mark": {"type": "text", "color": "#ffffff", "fontSize": 17.5, "fontWeight": "bold", "baseline": "middle", "align": "center"},
          "encoding": {"y": {"datum": 2.224}, "text": {"field": "panel"}}
        }
      ]
    }
  ]
}
